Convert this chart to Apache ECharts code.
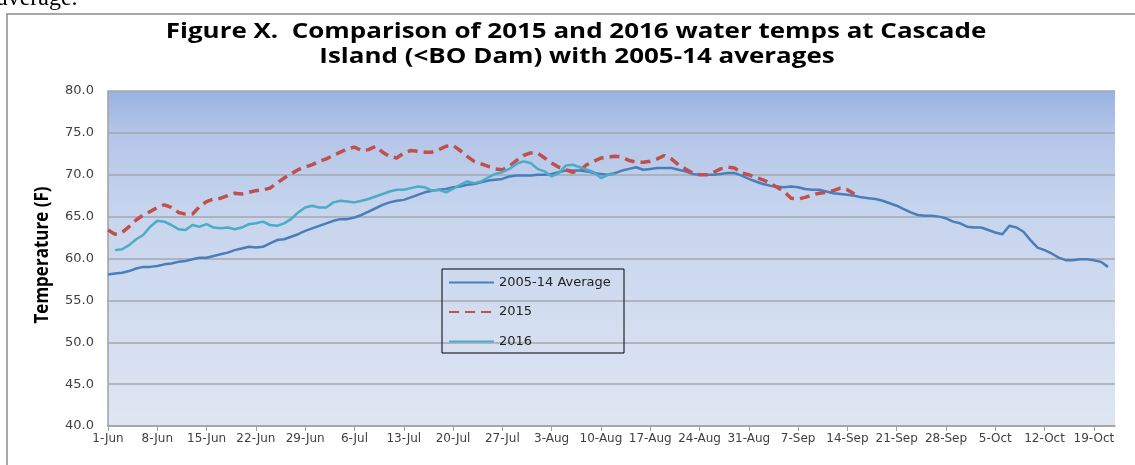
<!DOCTYPE html>
<html>
<head>
<meta charset="utf-8">
<script src="https://cdn.jsdelivr.net/npm/echarts@6/dist/echarts.min.js"></script>
<style>
html,body{margin:0;padding:0;background:#fff;}
#chart{width:1135px;height:465px;}
</style>
</head>
<body>
<div id="chart"></div>
<script>
// ---- tick / category labels (daily, 1-Jun .. 22-Oct) ----
const monthNames = ['Jun','Jul','Aug','Sep','Oct'];
const monthDays = [30,31,31,30,22];
const categories = [];
monthNames.forEach(function(m, i){ for (let d = 1; d <= monthDays[i]; d++) categories.push(d + '-' + m); });

const yTicks = [40, 45, 50, 55, 60, 65, 70, 75, 80];

const titleLines = ['Figure X.  Comparison of 2015 and 2016 water temps at Cascade',
                    'Island (<BO Dam) with 2005-14 averages'];
const yAxisTitle = 'Temperature (F)';

// ---- series values (deg F) ----
const avg0514 = [58.1,58.2,58.3,58.5,58.8,59.0,59.0,59.1,59.3,59.4,
59.6,59.7,59.9,60.1,60.1,60.3,60.5,60.7,61.0,61.2,
61.4,61.3,61.4,61.8,62.2,62.3,62.6,62.9,63.3,63.6,
63.9,64.2,64.5,64.7,64.7,64.9,65.2,65.6,66.0,66.4,
66.7,66.9,67.0,67.3,67.6,67.9,68.1,68.2,68.3,68.5,
68.6,68.8,68.9,69.1,69.3,69.4,69.5,69.8,69.9,69.9,
69.9,70.0,70.0,70.1,70.3,70.5,70.5,70.5,70.4,70.2,
70.1,70.0,70.2,70.5,70.7,70.9,70.6,70.7,70.8,70.8,
70.8,70.6,70.4,70.1,70.0,70.0,70.0,70.1,70.2,70.2,
69.9,69.5,69.2,68.9,68.7,68.6,68.5,68.6,68.5,68.3,
68.2,68.2,68.0,67.8,67.7,67.6,67.5,67.3,67.2,67.1,
66.9,66.6,66.3,65.9,65.5,65.2,65.1,65.1,65.0,64.8,
64.4,64.2,63.8,63.7,63.7,63.4,63.1,62.9,63.9,63.7,
63.2,62.2,61.3,61.0,60.6,60.1,59.8,59.8,59.9,59.9,
59.8,59.6,59.0];

const y2015 = [63.4,62.9,63.1,63.8,64.6,65.2,65.6,66.1,66.4,66.1,
65.5,65.3,65.3,66.2,66.8,67.1,67.2,67.5,67.8,67.7,
67.9,68.1,68.2,68.4,69.0,69.6,70.1,70.6,70.9,71.2,
71.6,71.9,72.3,72.7,73.1,73.3,72.9,73.0,73.4,72.7,
72.2,72.0,72.6,72.9,72.8,72.7,72.7,73.0,73.4,73.5,
72.9,72.2,71.6,71.3,71.0,70.7,70.6,71.0,71.7,72.3,
72.6,72.6,72.0,71.4,70.9,70.6,70.3,70.5,71.2,71.6,
72.0,72.1,72.2,72.1,71.7,71.5,71.5,71.6,71.9,72.3,
71.9,71.2,70.7,70.2,70.0,70.0,70.3,70.7,70.9,70.8,
70.2,70.0,69.7,69.4,69.0,68.5,68.0,67.2,67.1,67.3,
67.6,67.8,67.9,68.1,68.4,68.2,67.7];

const y2016 = [null,61.0,61.1,61.6,62.3,62.8,63.8,64.5,64.4,64.0,
63.5,63.4,64.0,63.8,64.1,63.7,63.6,63.7,63.5,63.7,
64.1,64.2,64.4,64.0,63.9,64.2,64.7,65.5,66.1,66.3,
66.1,66.1,66.7,66.9,66.8,66.7,66.9,67.1,67.4,67.7,
68.0,68.2,68.2,68.4,68.6,68.5,68.1,68.2,67.9,68.3,
68.8,69.2,69.0,69.2,69.7,70.1,70.3,70.7,71.3,71.6,
71.4,70.7,70.4,69.8,70.2,71.1,71.2,70.9,70.6,70.3,
69.6,70.0,70.1];

const seriesNames = ['2005-14 Average', '2015', '2016'];

const chart = echarts.init(document.getElementById('chart'), null, {renderer: 'canvas'});
const tickFont = 'DejaVu Sans';
const titleFont = 'bold 22px "Open Sans"';

chart.setOption({
  backgroundColor: '#ffffff',
  animation: false,
  grid: {
    left: 108, right: 20, top: 91, bottom: 39,
    show: true,
    borderWidth: 0,
    backgroundColor: {
      type: 'linear', x: 0, y: 0, x2: 0, y2: 1,
      colorStops: [
        {offset: 0, color: '#99b2e0'},
        {offset: 0.12, color: '#b3c5e8'},
        {offset: 0.35, color: '#c6d4ed'},
        {offset: 1, color: '#dfe6f3'}
      ]
    }
  },
  legend: {
    orient: 'vertical',
    left: 443, top: 271,
    itemWidth: 45, itemHeight: 14, itemGap: 16.5,
    data: seriesNames,
    itemStyle: {opacity: 0},
    textStyle: {fontFamily: tickFont, fontSize: 13, color: '#222'}
  },
  xAxis: {
    type: 'category',
    data: categories,
    boundaryGap: false,
    axisLine: {show: true, lineStyle: {color: '#a0a0a0', width: 1.5}},
    axisTick: {show: true, interval: 6, length: 5, lineStyle: {color: '#a0a0a0'}},
    axisLabel: {interval: 6, margin: 7, fontFamily: tickFont, fontSize: 12, color: '#404040'},
    splitLine: {show: false}
  },
  yAxis: {
    type: 'value',
    min: yTicks[0], max: yTicks[yTicks.length - 1], interval: 5,
    axisLine: {show: true, lineStyle: {color: '#a0a0a0', width: 1.5}},
    axisTick: {show: false},
    axisLabel: {margin: 14, fontFamily: tickFont, fontSize: 13, color: '#404040', formatter: function(v){ return v.toFixed(1); }},
    splitLine: {show: true, lineStyle: {color: '#a3a7b0', width: 1.5}}
  },
  graphic: [
    {type: 'polyline', shape: {points: [[7, 465], [7, 14], [1135, 14]]}, style: {stroke: '#8c8c8c', lineWidth: 1.5, fill: null}, z: 10},
    {type: 'text', left: -3, top: -13, style: {text: 'average.', font: '24px "Liberation Serif"', fill: '#000'}, z: 10},
    {type: 'rect', shape: {x: 442, y: 269, width: 182, height: 84}, style: {stroke: '#000', lineWidth: 1, fill: null}, z: 10},
    {type: 'text', x: 576, y: 32, scaleX: 1.18, style: {text: titleLines[0], font: titleFont, fill: '#000', textAlign: 'center', textVerticalAlign: 'middle'}, z: 10},
    {type: 'text', x: 577, y: 57, scaleX: 1.18, style: {text: titleLines[1], font: titleFont, fill: '#000', textAlign: 'center', textVerticalAlign: 'middle'}, z: 10},
    {type: 'text', x: 42, y: 255, rotation: Math.PI / 2, scaleY: 1.15, style: {text: yAxisTitle, font: 'bold 17px "Open Sans"', fill: '#000', textAlign: 'center', textVerticalAlign: 'middle'}, z: 10}
  ],
  series: [
    {name: seriesNames[0], type: 'line', data: avg0514, symbol: 'none', smooth: false,
     lineStyle: {color: '#4a7ebb', width: 2.5}, itemStyle: {color: '#4a7ebb'}, z: 2},
    {name: seriesNames[1], type: 'line', data: y2015, symbol: 'none', smooth: false,
     lineStyle: {color: '#c0504d', width: 3.5, type: [10, 6]}, itemStyle: {color: '#c0504d'}, z: 3},
    {name: seriesNames[2], type: 'line', data: y2016, symbol: 'none', smooth: false,
     lineStyle: {color: '#4bacc6', width: 2.5}, itemStyle: {color: '#4bacc6'}, z: 4}
  ]
});
</script>
</body>
</html>
